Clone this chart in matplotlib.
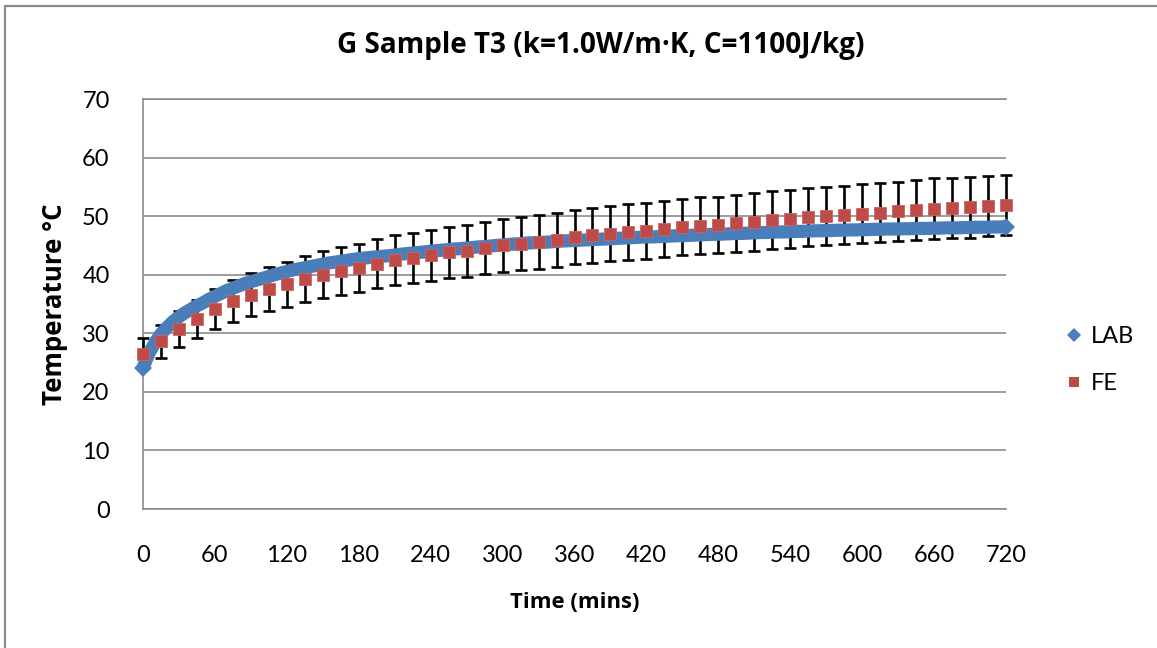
import matplotlib
matplotlib.use("Agg")
import matplotlib.pyplot as plt
from matplotlib.lines import Line2D
from matplotlib.patches import Rectangle

# ---------------- data ----------------
lab_time = list(range(0, 721, 5))
lab_temp = [
    24.1, 26.6, 28.4, 29.9, 31.0, 32.0, 32.8, 33.5, 34.1, 34.7,
    35.2, 35.8, 36.3, 36.8, 37.3, 37.7, 38.1, 38.5, 38.8, 39.1,
    39.4, 39.7, 40.0, 40.3, 40.55, 40.8, 41.0, 41.2, 41.4, 41.6,
    41.8, 42.0, 42.15, 42.3, 42.45, 42.6, 42.75, 42.85, 42.95, 43.05,
    43.15, 43.25, 43.35, 43.5, 43.6, 43.7, 43.8, 43.9, 44.0, 44.1,
    44.2, 44.3, 44.4, 44.45, 44.55, 44.65, 44.75, 44.8, 44.9, 45.0,
    45.1, 45.15, 45.25, 45.3, 45.4, 45.45, 45.5, 45.55, 45.6, 45.7,
    45.75, 45.8, 45.85, 45.9, 45.95, 46.0, 46.05, 46.1, 46.15, 46.2,
    46.25, 46.3, 46.35, 46.4, 46.45, 46.45, 46.5, 46.55, 46.6, 46.65,
    46.65, 46.7, 46.75, 46.8, 46.85, 46.9, 46.9, 46.95, 47.0, 47.05,
    47.05, 47.1, 47.15, 47.2, 47.2, 47.25, 47.3, 47.3, 47.35, 47.4,
    47.4, 47.45, 47.5, 47.5, 47.55, 47.55, 47.6, 47.6, 47.65, 47.65,
    47.7, 47.7, 47.75, 47.75, 47.8, 47.8, 47.8, 47.85, 47.85, 47.9,
    47.9, 47.9, 47.95, 47.95, 48.0, 48.0, 48.0, 48.05, 48.05, 48.1,
    48.1, 48.1, 48.15, 48.15, 48.2,
]

fe_time = list(range(0, 721, 15))
fe_temp = [
    26.5, 28.6, 30.75, 32.5, 34.2, 35.5, 36.6, 37.6, 38.4, 39.2,
    40.0, 40.6, 41.2, 41.9, 42.5, 42.9, 43.3, 43.8, 44.1, 44.6,
    45.0, 45.3, 45.6, 46.0, 46.4, 46.7, 47.0, 47.3, 47.5, 47.8,
    48.1, 48.4, 48.5, 48.8, 49.0, 49.3, 49.5, 49.8, 50.0, 50.2,
    50.4, 50.6, 50.8, 51.1, 51.3, 51.4, 51.5, 51.7, 51.9,
]
fe_err_pct = 0.10  # percentage error bars

title = "G Sample T3 (k=1.0W/m\u00b7K, C=1100J/kg)"
xlabel = "Time (mins)"
ylabel = "Temperature \u00b0C"
series_names = ["LAB", "FE"]
xticks = list(range(0, 721, 60))
yticks = list(range(0, 71, 10))

# ---------------- style ----------------
W, H = 1157, 648
FONT = "Lato"
BOLD = "Open Sans"
plt.rcParams["font.family"] = [FONT, "DejaVu Sans"]
BLUE = "#4A7EBB"
RED = "#BE4B48"
GRID = "#8C8C8C"

fig = plt.figure(figsize=(W / 100, H / 100), dpi=100)
ax = fig.add_axes([143 / W, 1 - 509 / H, (1006 - 143) / W, (509 - 99) / H])

# outer chart border (left/top visible, right/bottom cropped)
fig.patches.append(Rectangle((5 / W, -0.05), 1.2, 1 - 6 / H + 0.05,
                             transform=fig.transFigure, fill=False,
                             edgecolor="#8A8A8A", linewidth=1.6))

ax.set_xlim(0, 720)
ax.set_ylim(0, 70)
ax.set_xticks(xticks)
ax.set_yticks(yticks)
ax.tick_params(length=0, labelsize=17, colors="black")
ax.tick_params(axis="x", pad=26)
ax.tick_params(axis="y", pad=24)
ax.yaxis.grid(True, color=GRID, linewidth=1.2)
ax.set_axisbelow(True)
ax.spines["right"].set_visible(False)
for s in ["left", "bottom", "top"]:
    ax.spines[s].set_color(GRID)
    ax.spines[s].set_linewidth(1.2)

fe_err = [v * fe_err_pct for v in fe_temp]
ax.errorbar(fe_time, fe_temp, yerr=fe_err, fmt="none", ecolor="black",
            elinewidth=1.9, capsize=4.6, capthick=1.9, zorder=3, clip_on=False)

ax.plot(lab_time, lab_temp, color=BLUE, linewidth=9.5, solid_capstyle="butt",
        zorder=4, clip_on=False)
ax.plot(lab_time, lab_temp, linestyle="none", marker="D", markersize=9.5,
        color=BLUE, markeredgewidth=0, markevery=[0, len(lab_time) - 1],
        zorder=4, clip_on=False)

ax.plot(fe_time, fe_temp, linestyle="none", marker="s", markersize=8.6,
        color=RED, markeredgecolor="#C86563", markeredgewidth=0.6,
        zorder=5, clip_on=False)

handles = [
    Line2D([], [], linestyle="none", marker="D", markersize=7, color=BLUE,
           markeredgewidth=0),
    Line2D([], [], linestyle="none", marker="s", markersize=7.5, color=RED,
           markeredgewidth=0),
]
fig.legend(handles, series_names, loc="center left",
           bbox_to_anchor=(1066 / W, 1 - 360 / H), frameon=False,
           fontsize=17, handlelength=0.7, handletextpad=0.35,
           labelspacing=1.12, borderaxespad=0, borderpad=0)

t_title = fig.text(601 / W, 1 - 45 / H, title, ha="center", va="center",
                   fontsize=18, fontweight="bold", family=[BOLD, "DejaVu Sans"])
t_x = fig.text(575 / W, 1 - 603 / H, xlabel, ha="center", va="center",
               fontsize=15, fontweight="bold", family=[BOLD, "DejaVu Sans"])
t_y = fig.text(54 / W, 1 - 304 / H, ylabel, ha="center", va="center",
               rotation=90, fontsize=15, fontweight="bold",
               family=[BOLD, "DejaVu Sans"])

# scale text sizes to the widths measured on the reference
fig.canvas.draw()
r = fig.canvas.get_renderer()
for t, target, dim in [(t_title, 528, "w"), (t_x, 129, "w"), (t_y, 202, "h")]:
    bb = t.get_window_extent(r)
    cur = bb.width if dim == "w" else bb.height
    t.set_fontsize(t.get_fontsize() * target / cur)

fig.savefig("out.png", dpi=100)
